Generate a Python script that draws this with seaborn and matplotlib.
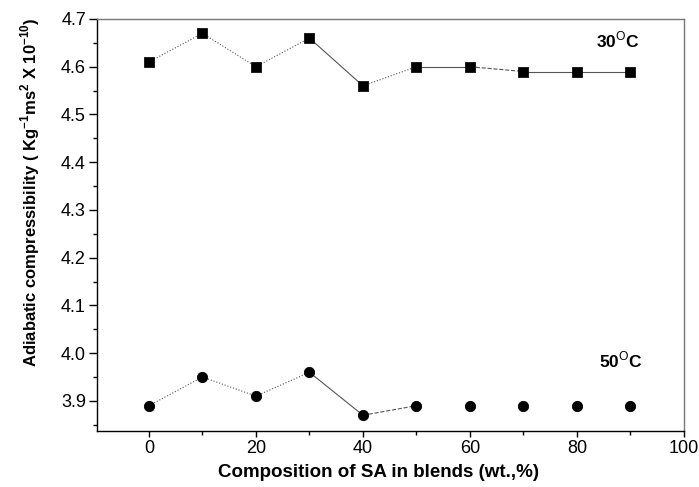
import matplotlib
matplotlib.use("Agg")
import matplotlib.pyplot as plt
import seaborn as sns
import numpy as np
import pandas as pd
from matplotlib.ticker import MultipleLocator

composition = [0, 10, 20, 30, 40, 50, 60, 70, 80, 90]
comp_30C = [4.61, 4.67, 4.60, 4.66, 4.56, 4.60, 4.60, 4.59, 4.59, 4.59]
comp_50C = [3.89, 3.95, 3.91, 3.96, 3.87, 3.89, 3.89, 3.89, 3.89, 3.89]
# connecting segment styles (None = no segment)
styles_30C = [":", ":", ":", "-", ":", "-", "--", "-", "-"]
styles_50C = [":", ":", ":", "-", "--", None, None, None, None]
x_ticks = [0, 20, 40, 60, 80, 100]
y_ticks = [3.9, 4.0, 4.1, 4.2, 4.3, 4.4, 4.5, 4.6, 4.7]

sns.set_theme(style="ticks")
plt.rcParams["font.family"] = ["Liberation Sans", "DejaVu Sans"]
plt.rcParams["mathtext.fontset"] = "custom"
plt.rcParams["mathtext.rm"] = "Liberation Sans"
plt.rcParams["mathtext.bf"] = "Liberation Sans:bold"
plt.rcParams["text.color"] = "black"
plt.rcParams["axes.labelcolor"] = "black"
plt.rcParams["xtick.color"] = "black"
plt.rcParams["ytick.color"] = "black"

fig = plt.figure(figsize=(6.99, 4.87), dpi=100)
ax = fig.add_axes([0.1388, 0.115, 0.8397, 0.846])

for ys, styles in [(comp_30C, styles_30C), (comp_50C, styles_50C)]:
    for i, ls in enumerate(styles):
        if ls is None:
            continue
        ax.plot(composition[i:i + 2], ys[i:i + 2], color="#555555", lw=0.8, ls=ls, zorder=2)

df30 = pd.DataFrame({"x": composition, "y": comp_30C})
df50 = pd.DataFrame({"x": composition, "y": comp_50C})
sns.scatterplot(data=df30, x="x", y="y", marker="s", s=45, color="black", edgecolor="black", ax=ax, zorder=3)
sns.scatterplot(data=df50, x="x", y="y", marker="o", s=55, color="black", edgecolor="black", ax=ax, zorder=3)

ax.set_xlim(-9.7, 100)
ax.set_ylim(3.837, 4.7)
ax.set_xticks(x_ticks)
ax.set_yticks(y_ticks)
ax.set_yticklabels([f"{v:.1f}" for v in y_ticks])
ax.xaxis.set_minor_locator(MultipleLocator(10))
ax.yaxis.set_minor_locator(MultipleLocator(0.05))
ax.tick_params(axis="both", which="major", direction="out", width=1, labelsize=13,
               colors="black", labelcolor="black")
ax.tick_params(axis="x", which="major", length=4.5, pad=2)
ax.tick_params(axis="y", which="major", length=6, pad=2)
ax.tick_params(axis="both", which="minor", direction="out", length=3, width=1)

for s in ["left", "bottom"]:
    ax.spines[s].set_color("black")
    ax.spines[s].set_linewidth(1.0)
for s in ["top", "right"]:
    ax.spines[s].set_color("#777777")
    ax.spines[s].set_linewidth(1.0)

ax.set_xlabel("Composition of SA in blends (wt.,%)", fontsize=13.5, fontweight="bold", color="black")
ax.set_ylabel(r"Adiabatic compressibility ( Kg$^{\mathbf{-1}}$ms$^{\mathbf{2}}$ X 10$^{\mathbf{-10}}$)",
              fontsize=12, fontweight="bold", color="black")
ax.xaxis.set_label_coords(0.48, -0.1)
ax.xaxis.label.set_va("center")
ax.yaxis.set_label_coords(-0.114, 0.58)
ax.yaxis.label.set_va("center")

ax.text(87.7, 4.656, r"30$^{\mathrm{O}}$C", fontsize=12.5, fontweight="bold", ha="center", va="center", color="black")
ax.text(88.1, 3.986, r"50$^{\mathrm{O}}$C", fontsize=12.5, fontweight="bold", ha="center", va="center", color="black")

fig.savefig("out.png", dpi=100)
